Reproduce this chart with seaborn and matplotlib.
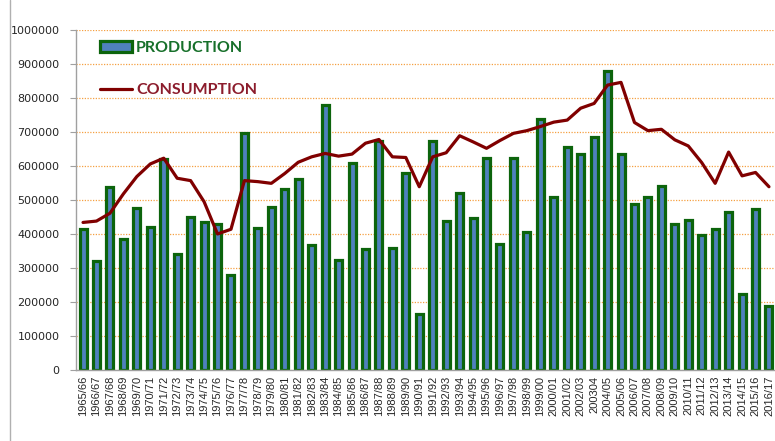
import numpy as np
import pandas as pd
import matplotlib
matplotlib.use("Agg")
import matplotlib.pyplot as plt
from matplotlib.lines import Line2D
import seaborn as sns

seasons = ["1965/66", "1966/67", "1967/68", "1968/69", "1969/70", "1970/71", "1971/72",
           "1972/73", "1973/74", "1974/75", "1975/76", "1976/77", "1977/78", "1978/79",
           "1979/80", "1980/81", "1981/82", "1982/83", "1983/84", "1984/85", "1985/86",
           "1986/87", "1987/88", "1988/89", "1989/90", "1990/91", "1991/92", "1992/93",
           "1993/94", "1994/95", "1995/96", "1996/97", "1997/98", "1998/99", "1999/00",
           "2000/01", "2001/02", "2002/03", "200304", "2004/05", "2005/06", "2006/07",
           "2007/08", "2008/09", "2009/10", "2010/11", "2011/12", "2012/13", "2013/14",
           "2014/15", "2015/16", "2016/17"]

production = [416000, 322000, 539000, 385000, 476000, 420000, 622000,
              340000, 451000, 434000, 429000, 279000, 696000, 417000,
              478000, 531000, 563000, 367000, 778000, 323000, 608000,
              357000, 673000, 360000, 580000, 165000, 675000, 437000,
              521000, 448000, 623000, 371000, 623000, 406000, 737000,
              510000, 657000, 636000, 685000, 880000, 635000, 489000,
              510000, 542000, 429000, 440000, 398000, 416000, 464000,
              224000, 475000, 189000]

consumption = [434000, 438000, 461000, 518000, 569000, 606000, 623000,
               564000, 557000, 495000, 400000, 414000, 557000, 554000,
               549000, 578000, 611000, 627000, 637000, 629000, 635000,
               667000, 678000, 627000, 625000, 539000, 627000, 639000,
               689000, 671000, 652000, 675000, 696000, 704000, 716000,
               729000, 735000, 770000, 784000, 838000, 846000, 728000,
               704000, 708000, 677000, 659000, 610000, 549000, 641000,
               571000, 581000, 539000]

sns.set_theme(style="white")
plt.rcParams["font.family"] = ["Liberation Sans", "DejaVu Sans"]

fig = plt.figure(figsize=(7.75, 4.41), dpi=100)
ax = fig.add_axes([76.3 / 775, 1 - 370 / 441, (775.7 - 76.3) / 775, 340 / 441])

bar_fill = "#4f81bd"
bar_edge = "#0c640c"
line_col = "#800000"

df = pd.DataFrame({"season": seasons, "production": production,
                   "consumption": consumption, "pos": np.arange(len(seasons))})

sns.barplot(data=df, x="season", y="production", color=bar_fill, saturation=1,
            edgecolor=bar_edge, linewidth=2.3, width=0.52, ax=ax, zorder=2,
            label="PRODUCTION")
sns.lineplot(data=df, x="pos", y="consumption", color=line_col, linewidth=2.3,
             ax=ax, zorder=3, label="CONSUMPTION")

ax.set_xlim(-0.5, len(seasons) - 0.5)
ax.set_ylim(0, 1000000)
ax.set_yticks(np.arange(0, 1000001, 100000))
ax.set_yticklabels([f"{int(v)}" for v in np.arange(0, 1000001, 100000)], fontsize=8,
                   family="DejaVu Sans")
ax.set_xticks(np.arange(len(seasons)))
ax.set_xticklabels(seasons, rotation=90, fontsize=8)
ax.set_xticks(np.arange(len(seasons) + 1) - 0.5, minor=True)
ax.tick_params(axis="x", which="major", length=0, pad=4)
ax.tick_params(axis="x", which="minor", length=4, color="#a0a0a0", width=0.8)
ax.tick_params(axis="y", length=4, color="#a0a0a0", width=0.8, pad=8, left=True)
ax.set_xlabel("")
ax.set_ylabel("")

ax.yaxis.grid(True, color="#f5a043", linestyle=(0, (1, 1.2)), linewidth=0.9)
ax.xaxis.grid(False)
ax.set_axisbelow(True)
for s in ["top", "right"]:
    ax.spines[s].set_visible(False)
for s in ["left", "bottom"]:
    ax.spines[s].set_color("#a0a0a0")
    ax.spines[s].set_linewidth(1.0)

handles, labels = ax.get_legend_handles_labels()
order = [labels.index("PRODUCTION"), labels.index("CONSUMPTION")]
leg = ax.legend([handles[i] for i in order], [labels[i] for i in order],
                loc="upper left", bbox_to_anchor=((100 - 76.3) / 699.4, 1 - (41 - 30) / 340),
                frameon=False, borderpad=0, borderaxespad=0, labelspacing=1.75,
                handlelength=2.0, handletextpad=0.25,
                prop={"family": "Lato", "weight": "bold", "size": 11.5})
for txt, col in zip(leg.get_texts(), ["#17702a", "#8c1c2c"]):
    txt.set_color(col)

fig.add_artist(Line2D([10 / 775, 10 / 775], [0, 1], transform=fig.transFigure,
                      color="#b0b0b0", linewidth=1.0))

fig.savefig("out.png", dpi=100)
